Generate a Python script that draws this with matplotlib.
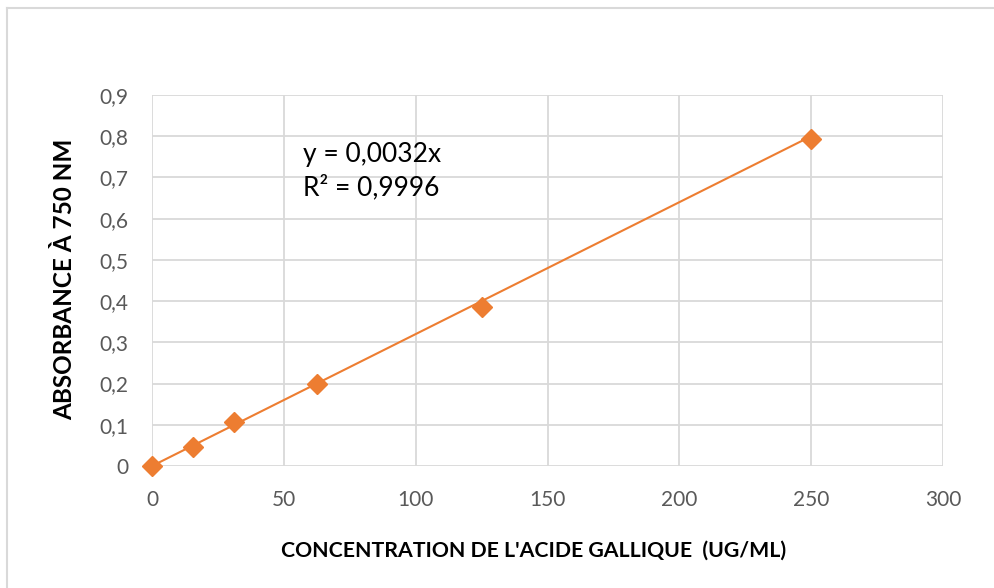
import matplotlib
matplotlib.use("Agg")
import matplotlib.pyplot as plt
from matplotlib.lines import Line2D
from matplotlib.ticker import FuncFormatter

plt.rcParams['font.family'] = ['Lato', 'DejaVu Sans']

# Gallic acid calibration data
concentration = [0, 15.625, 31.25, 62.5, 125, 250]
absorbance = [0, 0.045, 0.106, 0.198, 0.385, 0.794]
slope = 0.0032
r_squared = 0.9996
x_ticks = [0, 50, 100, 150, 200, 250, 300]
y_ticks = [0, 0.1, 0.2, 0.3, 0.4, 0.5, 0.6, 0.7, 0.8, 0.9]

orange = '#ED7D31'
grid_col = '#D9D9D9'
text_col = '#595959'

fig = plt.figure(figsize=(9.95, 5.88), dpi=100)
ax = fig.add_axes([152 / 995, 1 - 466 / 588, 791 / 995, 371 / 588])

# Chart frame (left and top edges)
fig.add_artist(Line2D([7.5 / 995, 7.5 / 995], [0, 1 - 8 / 588], color=grid_col, lw=1.5,
                      transform=fig.transFigure))
fig.add_artist(Line2D([7.5 / 995, 1], [1 - 8 / 588, 1 - 8 / 588], color=grid_col, lw=1.5,
                      transform=fig.transFigure))

# Linear trendline through the origin
x_fit = [0, max(concentration)]
y_fit = [slope * v for v in x_fit]
ax.plot(x_fit, y_fit, color=orange, lw=1.5, zorder=3)
ax.plot(concentration, absorbance, linestyle='none', marker='D', markersize=10,
        color=orange, zorder=4, clip_on=False)

ax.set_xlim(0, 300)
ax.set_ylim(0, 0.9)
ax.set_xticks(x_ticks)
ax.set_yticks(y_ticks)
ax.yaxis.set_major_formatter(FuncFormatter(lambda v, p: ('%g' % round(v, 1)).replace('.', ',')))
ax.grid(True, color=grid_col, lw=1.3)
ax.set_axisbelow(True)
for side in ['top', 'right', 'bottom', 'left']:
    ax.spines[side].set_visible(False)
ax.tick_params(axis='both', length=0, labelsize=15, colors=text_col)
ax.tick_params(axis='x', pad=17)
ax.tick_params(axis='y', pad=17)

fig.text(534 / 995, 1 - 551 / 588, "CONCENTRATION DE L'ACIDE GALLIQUE  (UG/ML)",
         ha='center', va='center', fontsize=15.3, fontweight='bold', color='black')
fig.text(65 / 995, 1 - 279 / 588, "ABSORBANCE À 750 NM", rotation=90,
         ha='center', va='center', fontsize=17.5, fontweight='bold', color='black')

eq_text = 'y = %sx\nR² = %s' % (('%g' % slope).replace('.', ','),
                                 ('%g' % r_squared).replace('.', ','))
ax.text(57.3, 0.715, eq_text, fontsize=19, color='black',
        ha='left', va='center', linespacing=1.35)

fig.savefig('out.png', dpi=100, facecolor='white')
